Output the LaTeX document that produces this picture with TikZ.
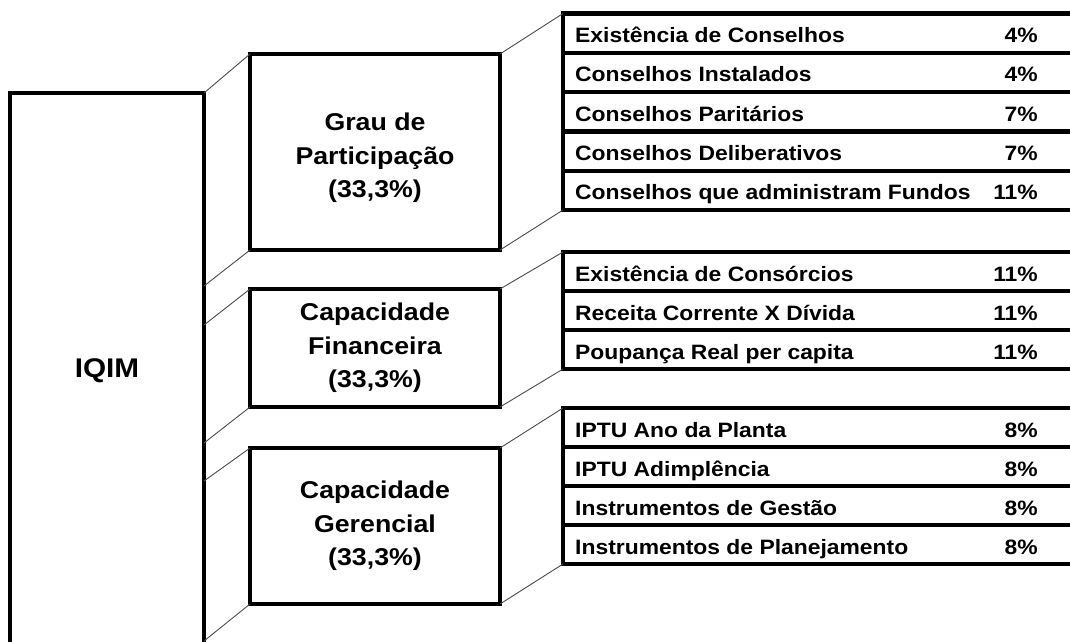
\documentclass[tikz,border=0pt]{standalone}
\usepackage{fontspec}
\setmainfont{Liberation Sans}[FakeStretch=1.10]
\usetikzlibrary{calc}
\begin{document}
\begin{tikzpicture}[x=1pt,y=-1pt,
  box/.style={draw=black,line width=4.2pt,inner sep=0pt,outer sep=0pt,fill=white},
  rowbox/.style={draw=black,line width=4.2pt,inner sep=0pt,outer sep=0pt,anchor=north west,minimum width=560pt},
  conn/.style={draw=black!70,line width=0.9pt},
  rowtext/.style={font=\bfseries\fontsize{20.8}{24}\selectfont,anchor=base west,inner sep=0pt},
  pcttext/.style={font=\bfseries\fontsize{20.8}{24}\selectfont,anchor=base east,inner sep=0pt},
  boxtext/.style={font=\bfseries\fontsize{24.3}{33.5}\selectfont,align=center,inner sep=0pt},
  bigtext/.style={font=\bfseries\fontsize{27}{30}\selectfont,inner sep=0pt}]
\useasboundingbox (0,0) rectangle (1070,641);
\clip (0,0) rectangle (1070,641);
\fill[white] (0,0) rectangle (1070,641);

% main box
\node[box,minimum width=194pt,minimum height=556pt] (iqim) at (107,371) {};
\node[bigtext] (iqimtext) at (iqim.center) {IQIM};

% middle boxes
\node[box,minimum width=250pt,minimum height=196pt] (grau) at (375,152) {};
\node[boxtext] (grautext) at ($(grau.center)+(0,6)$) {Grau de\\Participação\\(33,3\%)};
\node[box,minimum width=250pt,minimum height=118pt] (fin) at (375,348) {};
\node[boxtext] (fintext) at (fin.center) {Capacidade\\Financeira\\(33,3\%)};
\node[box,minimum width=250pt,minimum height=156pt] (ger) at (375,526) {};
\node[boxtext] (gertext) at (ger.center) {Capacidade\\Gerencial\\(33,3\%)};

% table 1
\node[rowbox,minimum height=39.3pt] (a1) at (563,13.5) {};
\node[rowbox,minimum height=39.3pt] (a2) at (a1.south west) {};
\node[rowbox,minimum height=39.3pt] (a3) at (a2.south west) {};
\node[rowbox,minimum height=39.3pt] (a4) at (a3.south west) {};
\node[rowbox,minimum height=39.3pt] (a5) at (a4.south west) {};
% table 2
\node[rowbox,minimum height=39pt] (b1) at (563,252) {};
\node[rowbox,minimum height=39pt] (b2) at (b1.south west) {};
\node[rowbox,minimum height=39pt] (b3) at (b2.south west) {};
% table 3
\node[rowbox,minimum height=39pt] (c1) at (563,408) {};
\node[rowbox,minimum height=39pt] (c2) at (c1.south west) {};
\node[rowbox,minimum height=39pt] (c3) at (c2.south west) {};
\node[rowbox,minimum height=39pt] (c4) at (c3.south west) {};

% row texts
\foreach \r/\t/\p in {a1/Existência de Conselhos/4\%,
  a2/Conselhos Instalados/4\%,
  a3/Conselhos Paritários/7\%,
  a4/Conselhos Deliberativos/7\%,
  a5/Conselhos que administram Fundos/11\%,
  b1/Existência de Consórcios/11\%,
  b2/Receita Corrente X Dívida/11\%,
  b3/Poupança Real per capita/11\%,
  c1/IPTU Ano da Planta/8\%,
  c2/IPTU Adimplência/8\%,
  c3/Instrumentos de Gestão/8\%,
  c4/Instrumentos de Planejamento/8\%}{
  \node[rowtext] (\r t) at ($(\r.west)+(12,9.5)$) {\t};
  \node[pcttext] (\r p) at ($(\r.west)+(475,9.5)$) {\p};
}

% left connector points on IQIM edge
\coordinate (l2) at (204,286);
\coordinate (l3) at (204,325);
\coordinate (l4) at (204,443);
\coordinate (l5) at (204,481);
\coordinate (l6) at (204,641);

\draw[conn] (grau.north west) -- (iqim.north east);
\draw[conn] (grau.south west) -- (l2);
\draw[conn] (fin.north west) -- (l3);
\draw[conn] (fin.south west) -- (l4);
\draw[conn] (ger.north west) -- (l5);
\draw[conn] (ger.south west) -- (l6);

\draw[conn] (grau.north east) -- (a1.north west);
\draw[conn] (grau.south east) -- (a5.south west);
\draw[conn] (fin.north east) -- (b1.north west);
\draw[conn] (fin.south east) -- (b3.south west);
\draw[conn] (ger.north east) -- (c1.north west);
\draw[conn] (ger.south east) -- (c4.south west);
\end{tikzpicture}
\end{document}
